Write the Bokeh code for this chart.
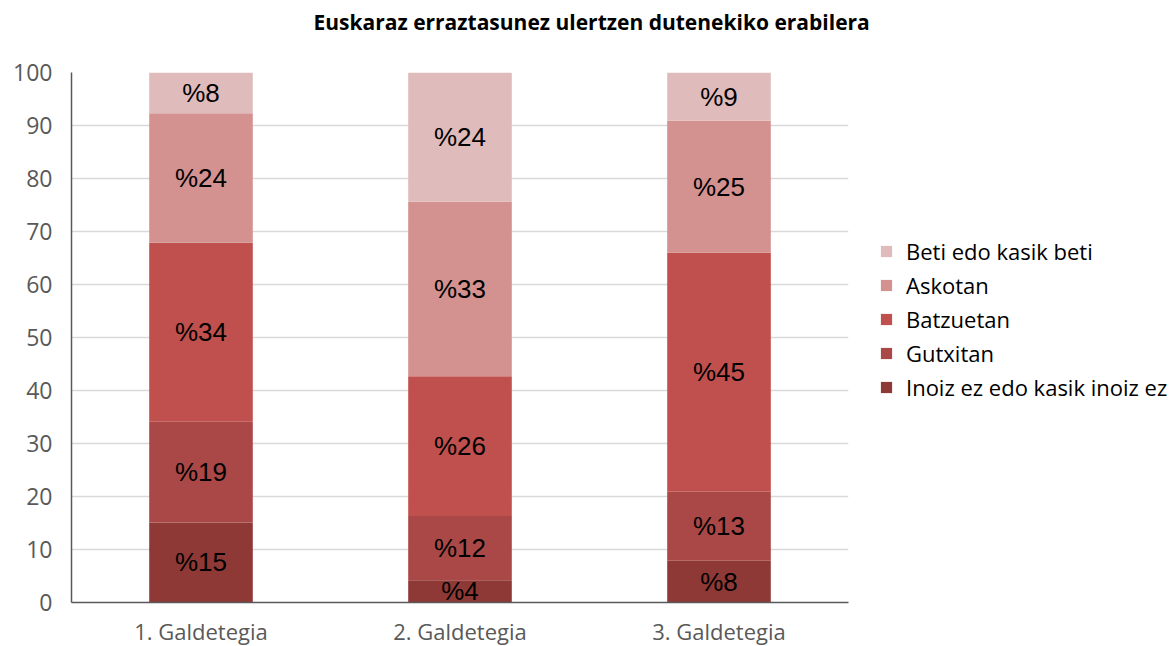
from bokeh.plotting import figure
from bokeh.models import ColumnDataSource, FactorRange, Legend, LegendItem, Title
from bokeh.core.properties import value
from bokeh.embed import file_html
from bokeh.resources import INLINE

categories = ["1. Galdetegia", "2. Galdetegia", "3. Galdetegia"]
series = ["Inoiz ez edo kasik inoiz ez", "Gutxitan", "Batzuetan", "Askotan", "Beti edo kasik beti"]
inoiz = [15.1, 4.2, 7.9]
gutxitan = [19.0, 12.1, 13.0]
batzuetan = [33.8, 26.4, 45.1]
askotan = [24.4, 32.9, 24.9]
beti = [7.7, 24.4, 9.1]
colors = ["#8E3936", "#A94846", "#C0504D", "#D39190", "#E0BBBB"]
title_text = "Euskaraz erraztasunez ulertzen dutenekiko erabilera"

keys = ["inoiz", "gutxitan", "batzuetan", "askotan", "beti"]
vals = [inoiz, gutxitan, batzuetan, askotan, beti]
data = {"cat": categories}
for k, v in zip(keys, vals):
    data[k] = v
source = ColumnDataSource(data)

p = figure(x_range=FactorRange(*categories), y_range=(0, 100), title=None,
           frame_width=777, frame_height=530, output_backend="svg", toolbar_location=None,
           min_border_left=71, min_border_right=326, min_border_top=72, min_border_bottom=44)
p.x_range.range_padding = 0

# spacer between frame and title, then the title itself (outer)
p.add_layout(Title(text=" ", text_font_size="10px", standoff=24), "above")
p.add_layout(Title(text=title_text, align="left", offset=242, standoff=0,
                   text_font="Open Sans", text_font_size="21px", text_font_style="bold",
                   text_color="#000000"), "above")

renderers = p.vbar_stack(keys, x="cat", width=0.4, color=colors, line_color=None, source=source)

# labels at segment centres
lx, ly, lt = [], [], []
for i, c in enumerate(categories):
    base = 0
    for v in vals:
        lx.append(c)
        ly.append(base + v[i] / 2)
        lt.append("%" + str(int(round(v[i]))))
        base += v[i]
p.text(x=lx, y=ly, text=lt, text_align="center", text_baseline="middle",
       text_font=value("Liberation Sans"), text_font_size="26px", text_color="#000000")

items = [LegendItem(label=s, renderers=[r]) for s, r in zip(series, renderers)][::-1]
legend = Legend(items=items, location=(31, 200), border_line_color=None,
                label_text_font="Open Sans", label_text_font_size="22px", label_text_color="#000000",
                glyph_width=14, glyph_height=14, spacing=4, label_standoff=13, padding=0, margin=0,
                label_height=22)
p.add_layout(legend, "right")

p.outline_line_color = None
p.xgrid.grid_line_color = None
p.ygrid.grid_line_color = "#D9D9D9"
p.ygrid.grid_line_width = 1.5
p.yaxis.ticker = list(range(0, 101, 10))
for ax in (p.xaxis, p.yaxis):
    ax.axis_line_color = "#595959"
    ax.axis_line_width = 1.5
    ax.major_tick_line_color = None
    ax.minor_tick_line_color = None
    ax.major_label_text_font = "Open Sans"
    ax.major_label_text_color = "#595959"
p.yaxis.major_label_text_font_size = "23px"
p.xaxis.major_label_text_font_size = "22px"
p.yaxis.major_label_standoff = 13
p.xaxis.major_label_standoff = 7

open("out.html", "w").write(file_html(p, INLINE))
